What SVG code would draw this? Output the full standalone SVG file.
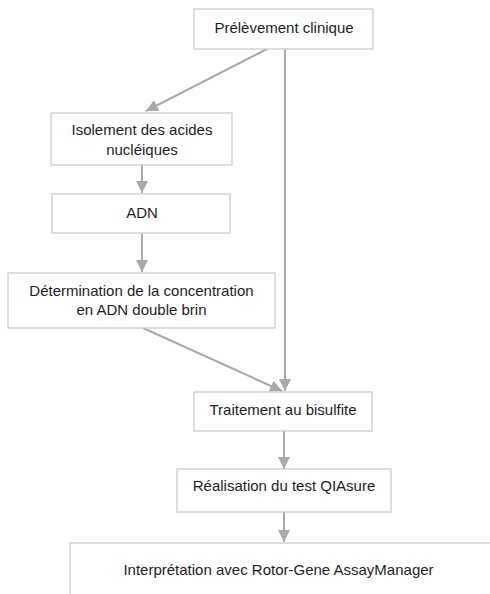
<svg xmlns="http://www.w3.org/2000/svg" width="490" height="594" viewBox="0 0 490 594">
<style>
.box{fill:#ffffff;stroke:#c9c9c9;stroke-width:1.2}
.lbl{font-family:"Liberation Sans",Arial,sans-serif;font-size:15px;fill:#1e1e1e;text-anchor:middle}
.edge{stroke:#a9a9a9;stroke-width:2;fill:none}
</style>
<defs>
<marker id="arr" viewBox="0 0 12 12" refX="12" refY="6" markerWidth="12" markerHeight="12" markerUnits="userSpaceOnUse" orient="auto">
<path d="M0,0 L12,6 L0,12 Z" fill="#a9a9a9"/>
</marker>
</defs>
<rect width="490" height="594" fill="#ffffff"/>
<g id="connectors">
<line class="edge" x1="267" y1="49" x2="146" y2="111" marker-end="url(#arr)"/>
<line class="edge" x1="285" y1="49" x2="285" y2="391" marker-end="url(#arr)"/>
<line class="edge" x1="142" y1="165" x2="142" y2="193" marker-end="url(#arr)"/>
<line class="edge" x1="142" y1="233" x2="142" y2="272" marker-end="url(#arr)"/>
<line class="edge" x1="143" y1="328" x2="282" y2="391" marker-end="url(#arr)"/>
<line class="edge" x1="284" y1="431" x2="284" y2="469" marker-end="url(#arr)"/>
<line class="edge" x1="284" y1="512" x2="284" y2="542" marker-end="url(#arr)"/>
</g>
<g id="n1">
<rect class="box" x="194" y="9" width="179" height="40"/>
<text class="lbl" x="284" y="33">Prélèvement clinique</text>
</g>
<g id="n2">
<rect class="box" x="51" y="113" width="181" height="52"/>
<text class="lbl" x="142" y="135">Isolement des acides</text>
<text class="lbl" x="142" y="155">nucléiques</text>
</g>
<g id="n3">
<rect class="box" x="52" y="194" width="178" height="39"/>
<text class="lbl" x="142" y="218">ADN</text>
</g>
<g id="n4">
<rect class="box" x="8" y="273" width="267" height="55"/>
<text class="lbl" x="141.5" y="296">Détermination de la concentration</text>
<text class="lbl" x="141.5" y="315">en ADN double brin</text>
</g>
<g id="n5">
<rect class="box" x="194" y="392" width="178" height="39"/>
<text class="lbl" x="283" y="415">Traitement au bisulfite</text>
</g>
<g id="n6">
<rect class="box" x="177" y="469" width="214" height="43"/>
<text class="lbl" x="284" y="491">Réalisation du test QIAsure</text>
</g>
<g id="n7">
<rect class="box" x="70" y="543" width="440" height="70"/>
<text class="lbl" x="278.5" y="575">Interprétation avec Rotor-Gene AssayManager</text>
</g>
</svg>
